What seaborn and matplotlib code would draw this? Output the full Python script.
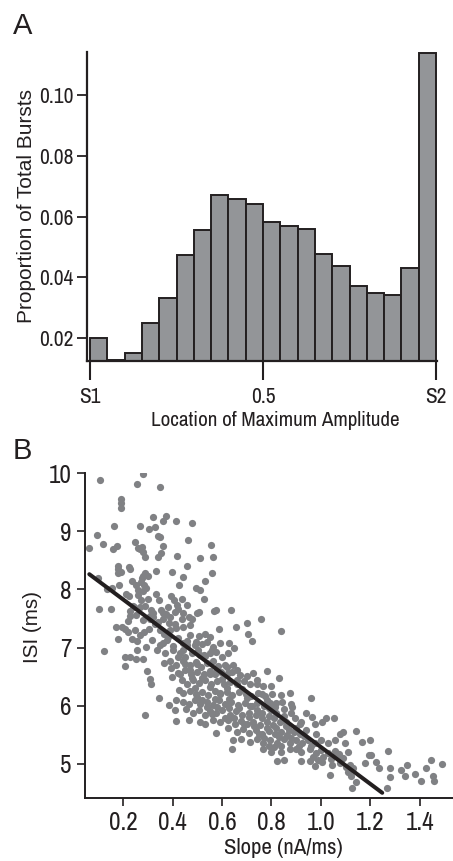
import numpy as np
import pandas as pd
import matplotlib
matplotlib.use("Agg")
import matplotlib.pyplot as plt
from matplotlib import font_manager as fm
from matplotlib.font_manager import FontProperties
from matplotlib.textpath import TextPath
import seaborn as sns

# ---------------- Panel A: histogram of peak location ----------------
bin_width = 0.05
bin_centers = np.arange(20) * bin_width + bin_width / 2
burst_proportion = [0.0201, 0.0128, 0.0150, 0.0248, 0.0332, 0.0473, 0.0554,
                    0.0672, 0.0657, 0.0642, 0.0583, 0.0570, 0.0558, 0.0478,
                    0.0437, 0.0371, 0.0349, 0.0342, 0.0429, 0.1140]
a_yticks = [0.02, 0.04, 0.06, 0.08, 0.10]
a_xticks = [0.0, 0.5, 1.0]
a_xticklabels = ["S1", "0.5", "S2"]

# ---------------- Panel B: ISI vs slope ----------------
slope_nA_ms = [
    0.28, 0.105, 0.256, 0.348, 0.19, 0.19, 0.19, 0.322, 0.371, 0.359,
    0.413, 0.479, 0.268, 0.163, 0.33, 0.306, 0.094, 0.34, 0.348, 0.464,
    0.116, 0.249, 0.554, 0.359, 0.062, 0.175, 0.158, 0.259, 0.277, 0.281,
    0.267, 0.352, 0.34, 0.286, 0.416, 0.511, 0.563, 0.457, 0.179, 0.224,
    0.179, 0.229, 0.396, 0.561, 0.177, 0.189, 0.334, 0.289, 0.281, 0.302,
    0.277, 0.44, 0.096, 0.236, 0.273, 0.529, 0.427, 0.283, 0.251, 0.181,
    0.135, 0.495, 0.51, 0.154, 0.258, 0.279, 0.291, 0.334, 0.21, 0.222,
    0.259, 0.302, 0.345, 0.395, 0.406, 0.436, 0.525, 0.457, 0.102, 0.152,
    0.229, 0.244, 0.267, 0.311, 0.322, 0.353, 0.371, 0.383, 0.416, 0.423,
    0.499, 0.507, 0.569, 0.577, 0.638, 0.442, 0.465, 0.479, 0.757, 0.70,
    0.227, 0.278, 0.307, 0.322, 0.341, 0.36, 0.386, 0.409, 0.436, 0.171,
    0.194, 0.208, 0.218, 0.248, 0.282, 0.303, 0.347, 0.364, 0.388, 0.413,
    0.472, 0.506, 0.53, 0.55, 0.588, 0.658, 0.704, 0.84, 0.237, 0.178,
    0.267, 0.256, 0.318, 0.359, 0.379, 0.421, 0.442, 0.46, 0.496, 0.518,
    0.539, 0.564, 0.59, 0.628, 0.65, 0.721, 0.256, 0.294, 0.124, 0.336,
    0.368, 0.402, 0.429, 0.45, 0.48, 0.504, 0.526, 0.55, 0.574, 0.601,
    0.624, 0.205, 0.229, 0.253, 0.278, 0.365, 0.391, 0.413, 0.44, 0.469,
    0.495, 0.514, 0.539, 0.564, 0.584, 0.618, 0.645, 0.205, 0.298, 0.395,
    0.422, 0.449, 0.476, 0.50, 0.527, 0.55, 0.572, 0.597, 0.624, 0.672,
    0.699, 0.726, 0.782, 0.307, 0.314, 0.399, 0.436, 0.46, 0.483, 0.507,
    0.53, 0.556, 0.58, 0.607, 0.634, 0.661, 0.688, 0.715, 0.742, 0.766,
    0.80, 0.831, 0.426, 0.44, 0.469, 0.494, 0.517, 0.543, 0.57, 0.593,
    0.618, 0.642, 0.669, 0.696, 0.719, 0.746, 0.773, 0.803, 0.837, 0.874,
    0.962, 0.343, 0.386, 0.413, 0.442, 0.467, 0.49, 0.51, 0.537, 0.564,
    0.588, 0.612, 0.638, 0.665, 0.692, 0.715, 0.742, 0.769, 0.796, 0.813,
    0.844, 0.881, 0.885, 0.289, 0.409, 0.456, 0.483, 0.507, 0.53, 0.553,
    0.577, 0.601, 0.631, 0.658, 0.682, 0.709, 0.736, 0.763, 0.79, 0.82,
    0.85, 0.894, 0.938, 0.966, 1.02, 1.053, 0.413, 0.467, 0.51, 0.529,
    0.564, 0.59, 0.623, 0.651, 0.678, 0.701, 0.726, 0.753, 0.78, 0.806,
    0.833, 0.858, 0.914, 0.975, 1.006, 0.577, 0.626, 0.661, 0.685, 0.709,
    0.736, 0.763, 0.79, 0.815, 0.84, 0.863, 0.89, 0.914, 0.979, 1.079,
    1.09, 1.141, 1.168, 1.198, 0.645, 0.678, 0.715, 0.742, 0.766, 0.796,
    0.823, 0.85, 0.874, 0.901, 0.925, 0.948, 0.975, 0.999, 1.029, 1.056,
    1.096, 0.639, 0.766, 0.80, 0.84, 0.874, 0.921, 0.955, 0.982, 1.002,
    1.029, 1.056, 1.073, 1.11, 1.272, 1.195, 1.204, 1.177, 1.225, 1.235,
    0.823, 0.85, 0.921, 0.955, 0.975, 1.006, 1.036, 1.047, 1.076, 1.103,
    1.13, 1.11, 1.123, 1.141, 1.127, 1.268, 1.281, 1.281, 1.326, 1.339,
    1.348, 1.38, 1.406, 1.427, 1.447, 1.454, 1.46, 1.492,
    0.47, 0.49, 0.52, 0.55, 0.57, 0.60, 0.62, 0.63, 0.66, 0.68,
    0.70, 0.72, 0.74, 0.76, 0.78, 0.79, 0.81, 0.82, 0.83, 0.86,
    0.87, 0.88, 0.90, 0.91, 0.93, 0.94, 0.96, 0.97, 0.99, 1.01,
    1.04, 1.06, 1.08, 1.09, 1.12, 0.54, 0.56, 0.58, 0.61, 0.63,
    0.65, 0.67, 0.69, 0.71, 0.73, 0.75, 0.77, 0.79, 0.81, 0.84,
    0.50, 0.53, 0.56, 0.58, 0.61, 0.64, 0.66, 0.44, 0.46, 0.42,
    0.40, 0.38, 0.35, 0.33, 0.31, 0.29, 0.27, 0.25, 0.24, 0.22,
    0.36, 0.39, 0.41, 0.44, 0.47, 0.49, 0.51, 0.45, 0.43, 0.48,
    0.50, 0.52, 0.55, 0.59, 0.74, 0.76, 0.78, 0.80, 0.82, 0.85,
    0.88, 0.90, 0.92,
]
isi_ms = [
    9.99, 9.88, 9.82, 9.77, 9.55, 9.48, 9.41, 9.25, 9.26, 9.18,
    9.18, 9.15, 9.09, 9.09, 9.08, 9.04, 8.94, 8.92, 8.91, 8.86,
    8.78, 8.81, 8.77, 8.75, 8.71, 8.74, 8.69, 8.71, 8.73, 8.65,
    8.69, 8.63, 8.56, 8.56, 8.58, 8.55, 8.56, 8.40, 8.41, 8.39,
    8.35, 8.35, 8.30, 8.29, 8.28, 8.30, 8.31, 8.28, 8.24, 8.24,
    8.19, 8.22, 8.19, 8.14, 8.12, 8.15, 8.07, 8.08, 8.08, 8.08,
    8.00, 8.02, 7.99, 8.03, 7.99, 7.98, 8.03, 7.92, 7.93, 7.89,
    7.90, 7.84, 7.82, 7.88, 7.82, 7.84, 7.83, 7.74, 7.66, 7.67,
    7.63, 7.69, 7.70, 7.65, 7.60, 7.65, 7.58, 7.70, 7.74, 7.66,
    7.59, 7.62, 7.63, 7.65, 7.64, 7.59, 7.53, 7.49, 7.50, 7.43,
    7.55, 7.47, 7.49, 7.53, 7.44, 7.50, 7.42, 7.41, 7.50, 7.36,
    7.36, 7.32, 7.27, 7.31, 7.26, 7.32, 7.30, 7.24, 7.30, 7.34,
    7.22, 7.20, 7.24, 7.18, 7.32, 7.35, 7.23, 7.28, 7.14, 7.15,
    7.22, 7.12, 7.13, 7.08, 7.13, 7.16, 7.08, 7.04, 7.10, 7.06,
    7.10, 7.01, 7.08, 7.08, 7.00, 7.11, 6.96, 7.01, 6.94, 6.96,
    6.90, 6.96, 6.90, 6.83, 6.90, 6.95, 6.87, 6.90, 6.92, 6.84,
    6.90, 6.83, 6.83, 6.81, 6.80, 6.74, 6.77, 6.70, 6.76, 6.70,
    6.75, 6.67, 6.73, 6.76, 6.68, 6.66, 6.70, 6.68, 6.60, 6.64,
    6.56, 6.61, 6.54, 6.58, 6.54, 6.60, 6.54, 6.58, 6.56, 6.53,
    6.51, 6.56, 6.60, 6.46, 6.38, 6.50, 6.44, 6.38, 6.44, 6.39,
    6.45, 6.38, 6.43, 6.37, 6.41, 6.37, 6.42, 6.37, 6.38, 6.33,
    6.33, 6.47, 6.27, 6.21, 6.26, 6.20, 6.24, 6.18, 6.26, 6.20,
    6.24, 6.18, 6.24, 6.20, 6.17, 6.21, 6.17, 6.20, 6.18, 6.22,
    6.14, 6.13, 6.01, 6.10, 6.07, 6.03, 6.10, 6.03, 6.07, 6.01,
    6.09, 6.03, 6.07, 6.01, 6.05, 5.99, 6.04, 5.99, 6.04, 5.98,
    6.07, 6.03, 5.97, 5.84, 5.92, 5.94, 5.87, 5.92, 5.84, 5.91,
    5.87, 5.92, 5.84, 5.90, 5.84, 5.88, 5.84, 5.88, 5.82, 5.87,
    5.82, 5.78, 5.87, 5.81, 5.78, 5.78, 5.74, 5.76, 5.72, 5.68,
    5.76, 5.72, 5.76, 5.69, 5.74, 5.69, 5.72, 5.67, 5.71, 5.67,
    5.71, 5.65, 5.69, 5.68, 5.72, 5.53, 5.61, 5.55, 5.59, 5.53,
    5.58, 5.52, 5.57, 5.51, 5.55, 5.49, 5.55, 5.52, 5.52, 5.52,
    5.55, 5.56, 5.37, 5.41, 5.41, 5.42, 5.38, 5.42, 5.36, 5.41,
    5.36, 5.42, 5.36, 5.41, 5.35, 5.40, 5.36, 5.41, 5.36, 5.40,
    5.35, 5.25, 5.26, 5.21, 5.21, 5.26, 5.21, 5.26, 5.19, 5.24,
    5.18, 5.22, 5.17, 5.21, 5.22, 5.15, 5.15, 5.01, 5.03, 4.92,
    5.04, 5.07, 5.04, 5.05, 4.96, 5.03, 4.80, 4.98, 5.01, 4.95,
    4.92, 4.86, 4.79, 4.69, 4.59, 4.59, 4.92, 4.78, 4.89, 4.79,
    4.98, 4.82, 4.71, 4.92, 5.06, 4.79, 4.71, 5.00,
    6.62, 6.30, 6.48, 6.32, 6.12, 6.46, 6.30, 6.12, 6.44, 6.28,
    6.14, 6.00, 5.93, 5.78, 5.62, 5.96, 5.78, 5.62, 5.46, 5.72,
    5.58, 5.45, 5.62, 5.30, 5.47, 5.58, 5.30, 5.12, 5.07, 5.12,
    5.08, 5.13, 5.07, 5.10, 4.98, 5.97, 5.85, 5.98, 5.78, 5.96,
    5.78, 5.96, 5.68, 5.80, 5.65, 5.52, 5.45, 5.30, 5.28, 5.30,
    6.72, 6.86, 6.95, 6.62, 6.70, 6.58, 6.62, 6.95, 7.12, 6.84,
    7.02, 7.18, 7.05, 7.40, 7.55, 7.72, 7.82, 7.56, 7.72, 7.45,
    7.60, 7.52, 7.62, 7.36, 7.38, 7.05, 6.88, 6.72, 6.55, 6.48,
    6.15, 6.10, 6.55, 6.22, 6.44, 6.20, 6.10, 5.92, 6.05, 5.95,
    5.88, 5.25, 5.72,
]
# least-squares line shown over the data range
fit_slope = -3.173
fit_intercept = 8.461
fit_range = [0.0625, 1.2485]
b_xticks = [0.2, 0.4, 0.6, 0.8, 1.0, 1.2, 1.4]
b_yticks = [5, 6, 7, 8, 9, 10]

# ---------------- fonts ----------------
DPI = 100
installed = {f.name for f in fm.fontManager.ttflist}


def first_installed(candidates, default):
    for name in candidates:
        if name in installed:
            return name
    return default


NARROW = first_installed(["Liberation Sans Narrow", "Arial Narrow", "Archivo Narrow",
                          "Roboto Condensed", "PT Sans Narrow", "Fira Sans Condensed",
                          "IBM Plex Sans Condensed", "Encode Sans Condensed"], "DejaVu Sans")
REGULAR = first_installed(["Liberation Sans", "Arimo", "Roboto"], "DejaVu Sans")
NARROW_STRETCH = "condensed" if NARROW == "DejaVu Sans" else "normal"


def size_for_width(text, width_px, family, stretch="normal"):
    """Font size (pt) at which `text` spans `width_px` pixels of ink."""
    prop = FontProperties(family=family, stretch=stretch)
    w = TextPath((0, 0), text, size=100, prop=prop).get_extents().width
    return 100 * (width_px * 72 / DPI) / w


def narrow(size):
    return dict(fontsize=size, family=NARROW, fontstretch=NARROW_STRETCH)


# ---------------- styling ----------------
sns.set_theme(style="ticks")
plt.rcParams["font.family"] = [NARROW, "DejaVu Sans"]
plt.rcParams["font.stretch"] = NARROW_STRETCH
INK = "#231f20"
for key in ("axes.edgecolor", "xtick.color", "ytick.color", "text.color", "axes.labelcolor"):
    plt.rcParams[key] = INK

BAR_GRAY = "#939598"
DOT_GRAY = "#808184"

a_tick_size = 1.12 * size_for_width("0.10", 29, NARROW, NARROW_STRETCH)
a_xlabel_size = 1.05 * size_for_width("Location of Maximum Amplitude", 235, NARROW, NARROW_STRETCH)
a_ylabel_size = size_for_width("Proportion of Total Bursts", 232, REGULAR)
b_tick_size = 1.06 * size_for_width("0.2", 25, NARROW, NARROW_STRETCH)
b_xlabel_size = size_for_width("Slope (nA/ms)", 117, NARROW, NARROW_STRETCH)
b_ylabel_size = size_for_width("ISI (ms)", 69, REGULAR)

fig = plt.figure(figsize=(4.53, 8.61), dpi=DPI)
ax_a = fig.add_axes([0.1927, 0.5807, 0.7713, 0.3593])
ax_b = fig.add_axes([0.1876, 0.0735, 0.8124, 0.3768])

# Panel A
hist_df = pd.DataFrame({"location": bin_centers, "proportion": burst_proportion})
sns.histplot(data=hist_df, x="location", weights="proportion",
             binwidth=bin_width, binrange=(0.0, 1.0),
             stat="count", color=BAR_GRAY, edgecolor=INK, linewidth=1.4,
             alpha=1, ax=ax_a)
ax_a.set_xlim(-0.008, 1.002)
ax_a.set_ylim(0.0124, 0.1143)
ax_a.set_xticks(a_xticks)
ax_a.set_xticklabels(a_xticklabels, **narrow(a_tick_size))
ax_a.set_yticks(a_yticks)
ax_a.set_yticklabels([f"{v:.2f}" for v in a_yticks], **narrow(a_tick_size))
sns.despine(ax=ax_a)
for s in ("left", "bottom"):
    ax_a.spines[s].set_linewidth(1.6)
ax_a.tick_params(axis="x", length=13.5, width=1.5, pad=5)
ax_a.tick_params(axis="y", length=7, width=1.3, pad=3)
ax_a.set_xlabel("Location of Maximum Amplitude", **narrow(a_xlabel_size))
ax_a.set_ylabel("Proportion of Total Bursts", fontsize=a_ylabel_size,
                family=[REGULAR, "DejaVu Sans"], fontstretch="normal")
ax_a.xaxis.set_label_coords(0.537, -0.162)
ax_a.yaxis.set_label_coords(-0.147, 0.5)

# Panel B
sns.scatterplot(x=slope_nA_ms, y=isi_ms, color=DOT_GRAY, s=27, linewidth=0,
                alpha=1, ax=ax_b, zorder=2)
fit_x = np.array(fit_range)
sns.lineplot(x=fit_x, y=fit_intercept + fit_slope * fit_x, color=INK,
             linewidth=2.9, ax=ax_b, zorder=3)
ax_b.set_xlim(0.045, 1.535)
ax_b.set_ylim(4.415, 10.0)
ax_b.set_xticks(b_xticks)
ax_b.set_xticklabels([f"{v:.1f}" for v in b_xticks], **narrow(b_tick_size))
ax_b.set_yticks(b_yticks)
ax_b.set_yticklabels([str(v) for v in b_yticks], **narrow(b_tick_size))
sns.despine(ax=ax_b)
for s in ("left", "bottom"):
    ax_b.spines[s].set_linewidth(1.4)
ax_b.tick_params(axis="both", length=6, width=1.2, pad=3.5)
ax_b.set_xlabel("Slope (nA/ms)", **narrow(b_xlabel_size))
ax_b.set_ylabel("ISI (ms)", fontsize=b_ylabel_size,
                family=[REGULAR, "DejaVu Sans"], fontstretch="normal")
ax_b.xaxis.set_label_coords(0.539, -0.124)
ax_b.yaxis.set_label_coords(-0.117, 0.526)

# panel letters
for letter, y in (("A", 0.9605), ("B", 0.4669)):
    fig.text(0.0287, y, letter, fontsize=21, family=[REGULAR, "DejaVu Sans"],
             fontstretch="normal", color=INK, ha="left", va="baseline")

fig.savefig("out.png", dpi=DPI)
